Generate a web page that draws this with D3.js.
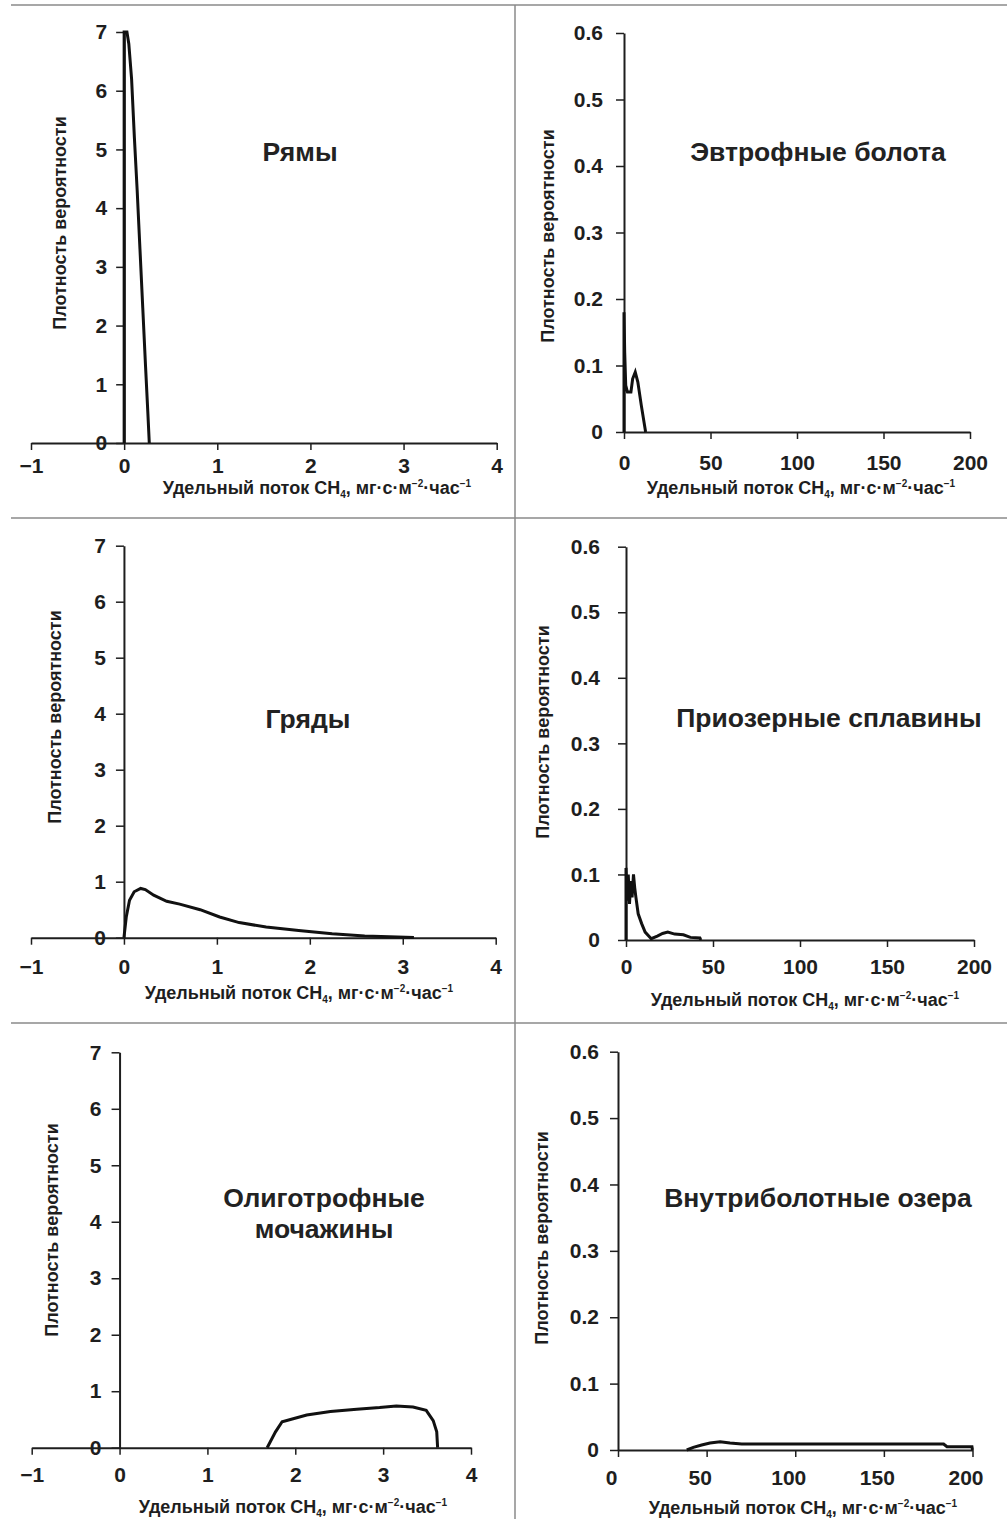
<!DOCTYPE html>
<html>
<head>
<meta charset="utf-8">
<script src="https://cdn.jsdelivr.net/npm/d3@7"></script>
<style>
  body { margin: 0; background: #fff; }
  svg { display: block; font-family: "Liberation Sans", Arial, sans-serif; }
</style>
</head>
<body>
<div class="chart"></div>
<script>
// Values: [flux, density] pairs for each wetland type
var ryamyData = [[0, 0], [0, 7], [0.03, 7], [0.05, 6.8], [0.08, 6.2], [0.11, 5.2], [0.14, 4.3],
  [0.17, 3.3], [0.2, 2.3], [0.23, 1.3], [0.255, 0.5], [0.27, 0]];
var eutrophData = [[0, 0], [0, 0.18], [0.4, 0.12], [1, 0.07], [2, 0.06], [4, 0.06], [5, 0.08],
  [6.5, 0.09], [8, 0.075], [10, 0.04], [12.5, 0]];
var ridgesData = [[0, 0], [0.025, 0.37], [0.06, 0.67], [0.11, 0.82], [0.18, 0.88], [0.23, 0.86],
  [0.32, 0.76], [0.46, 0.65], [0.6, 0.6], [0.82, 0.5], [1.03, 0.37], [1.24, 0.27], [1.53, 0.19],
  [1.88, 0.13], [2.24, 0.07], [2.59, 0.03], [3.12, 0.005]];
var lakeshoreData = [[0, 0], [0, 0.11], [0.7, 0.06], [1.3, 0.1], [2, 0.055], [2.8, 0.09], [3.5, 0.065],
  [4.3, 0.1], [5, 0.08], [5.7, 0.065], [7, 0.04], [9, 0.025], [11, 0.012], [14.5, 0.002],
  [18, 0.006], [21, 0.01], [24, 0.012], [28, 0.009], [33, 0.008], [37, 0.004], [42.5, 0.003], [43, 0]];
var hollowsData = [[1.68, 0], [1.775, 0.28], [1.85, 0.46], [1.945, 0.5], [2.13, 0.58], [2.4, 0.64],
  [2.7, 0.68], [2.96, 0.71], [3.15, 0.74], [3.34, 0.72], [3.49, 0.66], [3.57, 0.48], [3.61, 0.28], [3.62, 0]];
var lakesData = [[38.8, 0], [42.5, 0.004], [47.2, 0.0075], [51.9, 0.0105], [57.6, 0.0125],
  [63.2, 0.0105], [69.8, 0.009], [183.7, 0.009], [185.6, 0.005], [199.7, 0.005], [200, 0]];

var titles = [["Рямы"], ["Эвтрофные болота"], ["Гряды"], ["Приозерные сплавины"],
  ["Олиготрофные", "мочажины"], ["Внутриболотные озера"]];
var series = [ryamyData, eutrophData, ridgesData, lakeshoreData, hollowsData, lakesData];

var smallXTicks = [-1, 0, 1, 2, 3, 4];
var smallYTicks = [0, 1, 2, 3, 4, 5, 6, 7];
var bigXTicks = [0, 50, 100, 150, 200];
var bigYTicks = [0, 0.1, 0.2, 0.3, 0.4, 0.5, 0.6];

// panel geometry (pixels)
var panels = [
  { xd: [-1, 4], xr: [31, 496.7], yd: [0, 7], yr: [443, 32], xt: smallXTicks, yt: smallYTicks,
    xPad: 8, yPad: 9, yTitle: [60, 223], xTitle: [317, 488], title: [300, 161], lx: 0 },
  { xd: [0, 200], xr: [624, 970], yd: [0, 0.6], yr: [432, 33], xt: bigXTicks, yt: bigYTicks,
    xPad: 16, yPad: 13, yTitle: [548, 236], xTitle: [801, 488], title: [818, 161], lx: 0 },
  { xd: [-1, 4], xr: [31, 495.7], yd: [0, 7], yr: [937.7, 545.7], xt: smallXTicks, yt: smallYTicks,
    xPad: 14, yPad: 10, yTitle: [55, 717], xTitle: [299, 993], title: [308, 728], lx: 0 },
  { xd: [0, 200], xr: [626, 974], yd: [0, 0.6], yr: [940, 546.7], xt: bigXTicks, yt: bigYTicks,
    xPad: 12, yPad: 18, yTitle: [543, 732], xTitle: [805, 1000], title: [829, 727], lx: 0 },
  { xd: [-1, 4], xr: [31.7, 471], yd: [0, 7], yr: [1447.7, 1052.3], xt: smallXTicks, yt: smallYTicks,
    xPad: 12, yPad: 10, yTitle: [52, 1230], xTitle: [293, 1507], title: [324, 1207], lx: 0 },
  { xd: [0, 200], xr: [618, 972.5], yd: [0, 0.6], yr: [1450, 1051.7], xt: bigXTicks, yt: bigYTicks,
    xPad: 13, yPad: 11, yTitle: [542, 1238], xTitle: [803, 1508], title: [818, 1207], lx: -7 }
];

var width = 1007, height = 1519;
var ink = "#1e1e1e";

var svg = d3.select(".chart").append("svg")
  .attr("width", width)
  .attr("height", height);

// frame lines between the panels
var divider = svg.append("g").attr("stroke", "#8a8a8a").attr("stroke-width", 1.5);
[5, 518, 1023].forEach(function(y) {
  divider.append("line").attr("x1", 11).attr("x2", width).attr("y1", y).attr("y2", y);
});
divider.append("line").attr("x1", 515).attr("x2", 515).attr("y1", 5).attr("y2", height);

var yFormat = function(d) { return d === 0 ? "0" : (d < 1 ? d.toFixed(1) : d3.format("d")(d)); };
var xFormat = d3.format("d");

panels.forEach(function(p, i) {
  var x = d3.scaleLinear().domain(p.xd).range(p.xr);
  var y = d3.scaleLinear().domain(p.yd).range(p.yr);
  var g = svg.append("g");

  var xAxis = d3.axisBottom(x).tickValues(p.xt).tickSize(7).tickSizeOuter(0).tickPadding(p.xPad)
    .tickFormat(xFormat);
  var yAxis = d3.axisLeft(y).tickValues(p.yt).tickSize(8).tickSizeOuter(0).tickPadding(p.yPad)
    .tickFormat(yFormat);

  var xg = g.append("g")
    .attr("transform", "translate(0," + y(0) + ")")
    .call(xAxis);
  var yg = g.append("g")
    .attr("transform", "translate(" + x(0) + ",0)")
    .call(yAxis);

  [xg, yg].forEach(function(a) {
    a.select(".domain").attr("stroke", ink).attr("stroke-width", 2);
    a.selectAll(".tick line").attr("stroke", ink).attr("stroke-width", 1.5);
    a.selectAll(".tick text")
      .attr("fill", ink)
      .attr("font-size", "21px")
      .attr("font-weight", "bold")
      .attr("font-family", "Liberation Sans, Arial, sans-serif");
  });
  xg.selectAll(".tick text").attr("dx", p.lx);

  // density curve
  var line = d3.line().x(function(d) { return x(d[0]); }).y(function(d) { return y(d[1]); });
  g.append("path")
    .datum(series[i])
    .attr("d", line)
    .attr("fill", "none")
    .attr("stroke", "#111")
    .attr("stroke-width", 3)
    .attr("stroke-linejoin", "miter");

  // y axis title
  g.append("text")
    .attr("transform", "translate(" + p.yTitle[0] + "," + p.yTitle[1] + ") rotate(-90)")
    .attr("text-anchor", "middle")
    .attr("dy", "0.35em")
    .attr("font-size", "18px")
    .attr("font-weight", "bold")
    .attr("fill", ink)
    .text("Плотность вероятности");

  // x axis title with sub/superscripts
  var xt = g.append("text")
    .attr("x", p.xTitle[0])
    .attr("y", p.xTitle[1])
    .attr("dy", "0.35em")
    .attr("text-anchor", "middle")
    .attr("font-size", "18px")
    .attr("font-weight", "bold")
    .attr("fill", ink);
  xt.append("tspan").text("Удельный поток CH");
  xt.append("tspan").attr("font-size", "10px").attr("dy", 4).text("4");
  xt.append("tspan").attr("dy", -4).text(", мг·с·м");
  xt.append("tspan").attr("font-size", "10px").attr("dy", -7).text("−2");
  xt.append("tspan").attr("dy", 7).text("·час");
  xt.append("tspan").attr("font-size", "10px").attr("dy", -7).text("−1");

  // panel title
  var tt = g.append("text")
    .attr("x", p.title[0])
    .attr("y", p.title[1])
    .attr("text-anchor", "middle")
    .attr("font-size", "26.5px")
    .attr("font-weight", "bold")
    .attr("fill", "#222");
  titles[i].forEach(function(s, k) {
    tt.append("tspan").attr("x", p.title[0]).attr("dy", k === 0 ? 0 : 31).text(s);
  });
});
</script>
</body>
</html>
